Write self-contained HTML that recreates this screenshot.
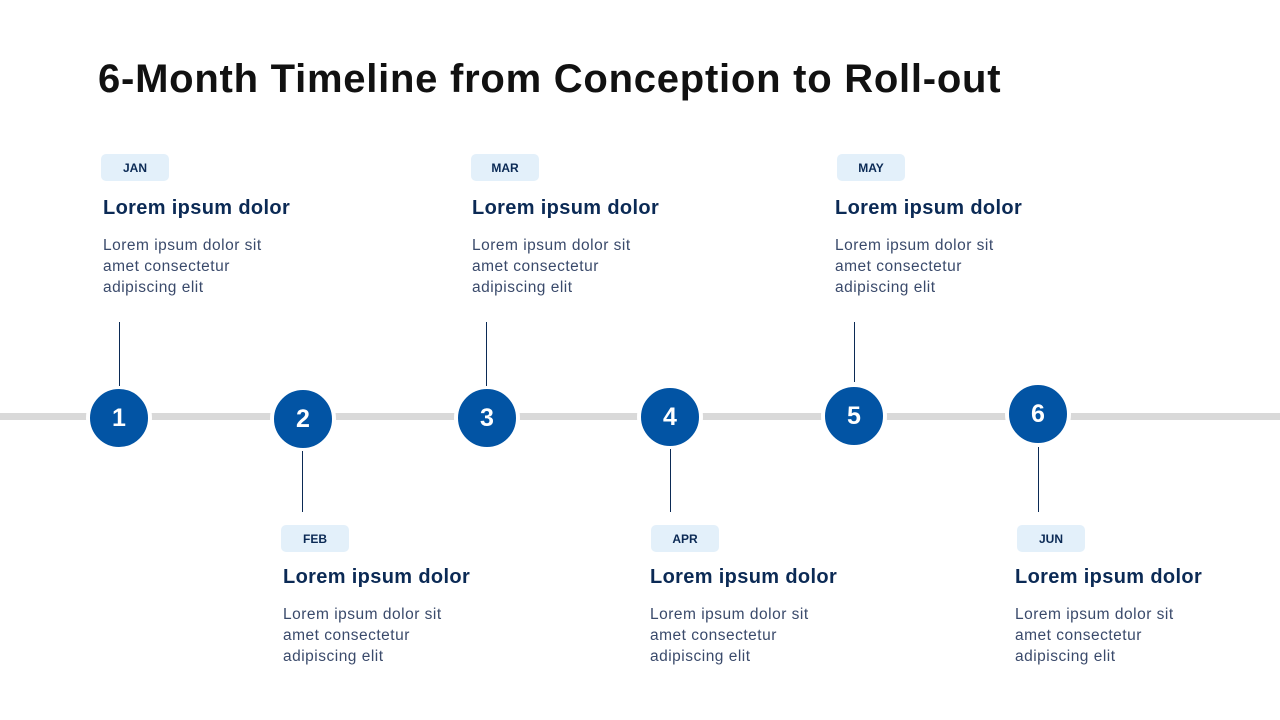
<!DOCTYPE html>
<html><head><meta charset="utf-8"><style>
*{margin:0;padding:0;box-sizing:border-box}
body{width:1280px;height:720px;background:#fff;position:relative;overflow:hidden;font-family:"Liberation Sans",sans-serif}
.a{position:absolute}
h1{position:absolute;left:98px;top:57px;font-size:40px;font-weight:bold;color:#111;letter-spacing:0.75px;white-space:nowrap}
.track{left:0;top:413px;width:1280px;height:7px;background:#d9d9d9}
.c{width:66px;height:66px;border-radius:50%;background:#0254a4;border:4px solid #fff;color:#fff;font-weight:bold;font-size:25px;display:flex;align-items:center;justify-content:center}
.v{width:1px;background:#0b2a55}
.pill{width:68px;height:27px;border-radius:5px;background:#e3f0fa;color:#0b2a55;font-size:12px;font-weight:bold;display:flex;align-items:center;justify-content:center}
.t{font-size:20px;font-weight:bold;color:#0b2a55;white-space:nowrap;letter-spacing:0.35px}
.b{font-size:15.5px;line-height:21px;color:#3a4a6b;white-space:nowrap;letter-spacing:0.5px}
</style></head><body>
<h1>6-Month Timeline from Conception to Roll-out</h1>
<div class="a track"></div>

<div class="a c" style="left:86px;top:385px">1</div>
<div class="a c" style="left:270px;top:386px">2</div>
<div class="a c" style="left:454px;top:385px">3</div>
<div class="a c" style="left:637px;top:384px">4</div>
<div class="a c" style="left:821px;top:383px">5</div>
<div class="a c" style="left:1005px;top:381px">6</div>

<div class="a v" style="left:119px;top:322px;height:64px"></div>
<div class="a v" style="left:486px;top:322px;height:64px"></div>
<div class="a v" style="left:854px;top:322px;height:60px"></div>
<div class="a v" style="left:302px;top:451px;height:61px"></div>
<div class="a v" style="left:670px;top:449px;height:63px"></div>
<div class="a v" style="left:1038px;top:447px;height:65px"></div>

<div class="a pill" style="left:101px;top:154px">JAN</div>
<div class="a t" style="left:103px;top:197px">Lorem ipsum dolor</div>
<div class="a b" style="left:103px;top:235px">Lorem ipsum dolor sit<br>amet consectetur<br>adipiscing elit</div>

<div class="a pill" style="left:471px;top:154px">MAR</div>
<div class="a t" style="left:472px;top:197px">Lorem ipsum dolor</div>
<div class="a b" style="left:472px;top:235px">Lorem ipsum dolor sit<br>amet consectetur<br>adipiscing elit</div>

<div class="a pill" style="left:837px;top:154px">MAY</div>
<div class="a t" style="left:835px;top:197px">Lorem ipsum dolor</div>
<div class="a b" style="left:835px;top:235px">Lorem ipsum dolor sit<br>amet consectetur<br>adipiscing elit</div>

<div class="a pill" style="left:281px;top:525px">FEB</div>
<div class="a t" style="left:283px;top:566px">Lorem ipsum dolor</div>
<div class="a b" style="left:283px;top:604px">Lorem ipsum dolor sit<br>amet consectetur<br>adipiscing elit</div>

<div class="a pill" style="left:651px;top:525px">APR</div>
<div class="a t" style="left:650px;top:566px">Lorem ipsum dolor</div>
<div class="a b" style="left:650px;top:604px">Lorem ipsum dolor sit<br>amet consectetur<br>adipiscing elit</div>

<div class="a pill" style="left:1017px;top:525px">JUN</div>
<div class="a t" style="left:1015px;top:566px">Lorem ipsum dolor</div>
<div class="a b" style="left:1015px;top:604px">Lorem ipsum dolor sit<br>amet consectetur<br>adipiscing elit</div>
</body></html>
